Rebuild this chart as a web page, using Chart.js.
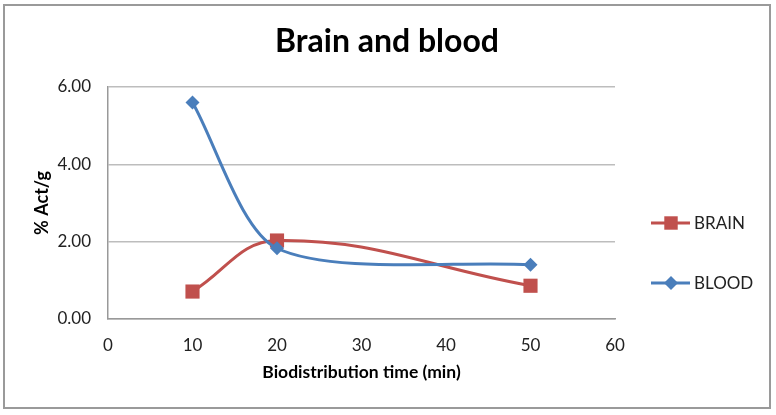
<!DOCTYPE html>
<html>
<head>
<meta charset="utf-8">
<script src="https://cdn.jsdelivr.net/npm/chart.js@4"></script>
<style>
  html, body { margin: 0; padding: 0; background: #fff; }
  #wrap { width: 776px; height: 415px; }
</style>
</head>
<body>
<div id="wrap"><canvas id="chart" width="776" height="415"></canvas></div>
<script>
// datos
const times = [10, 20, 50];
const brain = [0.71, 2.03, 0.86];
const blood = [5.60, 1.83, 1.40];
const xTicks = [0, 10, 20, 30, 40, 50, 60];
const yTicks = [0, 2, 4, 6];

const RED = '#C0504D';
const BLUE = '#4A7EBB';
const FONT = 'Lato, "Open Sans", sans-serif';

// borde exterior, titulo y leyenda
const extras = {
  id: 'extras',
  beforeDraw(chart) {
    const c = chart.ctx;
    c.save();
    c.fillStyle = '#fff';
    c.fillRect(0, 0, chart.width, chart.height);
    c.strokeStyle = '#9a9a9a';
    c.lineWidth = 2;
    c.strokeRect(4, 5, 766, 403);
    c.restore();
  },
  afterDraw(chart) {
    const c = chart.ctx;
    c.save();
    c.fillStyle = '#000';
    c.font = 'bold 32px ' + FONT;
    c.textAlign = 'center';
    c.textBaseline = 'middle';
    c.fillText('Brain and blood', 387, 42);

    const items = [
      { label: 'BRAIN', color: RED, style: 'rect', r: 9.5, y: 223 },
      { label: 'BLOOD', color: BLUE, style: 'rectRot', r: 7, y: 283 }
    ];
    items.forEach(it => {
      c.strokeStyle = it.color;
      c.lineWidth = 3;
      c.beginPath();
      c.moveTo(651, it.y);
      c.lineTo(690, it.y);
      c.stroke();
      c.fillStyle = it.color;
      Chart.helpers.drawPoint(c, { pointStyle: it.style, radius: it.r, borderWidth: 0 }, 671, it.y);
      c.fillStyle = '#222';
      c.font = '17px ' + FONT;
      c.textAlign = 'left';
      c.fillText(it.label, 694, it.y + 1);
    });
    c.restore();
  }
};

new Chart(document.getElementById('chart'), {
  type: 'line',
  data: {
    datasets: [
      {
        label: 'BRAIN',
        data: times.map((t, i) => ({ x: t, y: brain[i] })),
        borderColor: RED,
        backgroundColor: RED,
        borderWidth: 3,
        pointStyle: 'rect',
        pointRadius: 10,
        pointBorderWidth: 0,
        tension: 0.4,
        order: 1
      },
      {
        label: 'BLOOD',
        data: times.map((t, i) => ({ x: t, y: blood[i] })),
        borderColor: BLUE,
        backgroundColor: BLUE,
        borderWidth: 3,
        pointStyle: 'rectRot',
        pointRadius: 7,
        pointBorderWidth: 0,
        tension: 0.27,
        order: 0
      }
    ]
  },
  options: {
    responsive: false,
    animation: false,
    layout: { padding: { left: 20, right: 161, top: 87, bottom: 20 } },
    plugins: {
      legend: { display: false },
      title: { display: false },
      tooltip: { enabled: false }
    },
    scales: {
      x: {
        type: 'linear',
        min: 0,
        max: 60,
        afterBuildTicks: s => { s.ticks = xTicks.map(v => ({ value: v })); },
        afterFit: s => { s.height = 415 - 319 - 20; },
        grid: { display: false, drawTicks: false },
        border: { color: '#999', width: 1.5 },
        ticks: { color: '#222', font: { family: FONT, size: 17 }, padding: 16 },
        title: {
          display: true,
          text: 'Biodistribution time (min)',
          color: '#000',
          font: { family: FONT, size: 17.5, weight: 'bold' },
          padding: { top: 12, bottom: 12 }
        }
      },
      y: {
        min: 0,
        max: 6,
        afterBuildTicks: s => { s.ticks = yTicks.map(v => ({ value: v })); },
        afterFit: s => { s.width = 108 - 20; },
        grid: { color: '#bdbdbd', lineWidth: 1.5, drawTicks: false },
        border: { color: '#999', width: 1.5 },
        ticks: {
          color: '#222',
          font: { family: FONT, size: 17 },
          padding: 17,
          callback: v => v.toFixed(2)
        },
        title: {
          display: true,
          text: '% Act/g',
          color: '#000',
          font: { family: FONT, size: 18, weight: 'bold' },
          padding: { top: 11, bottom: 11 }
        }
      }
    }
  },
  plugins: [extras]
});
</script>
</body>
</html>
